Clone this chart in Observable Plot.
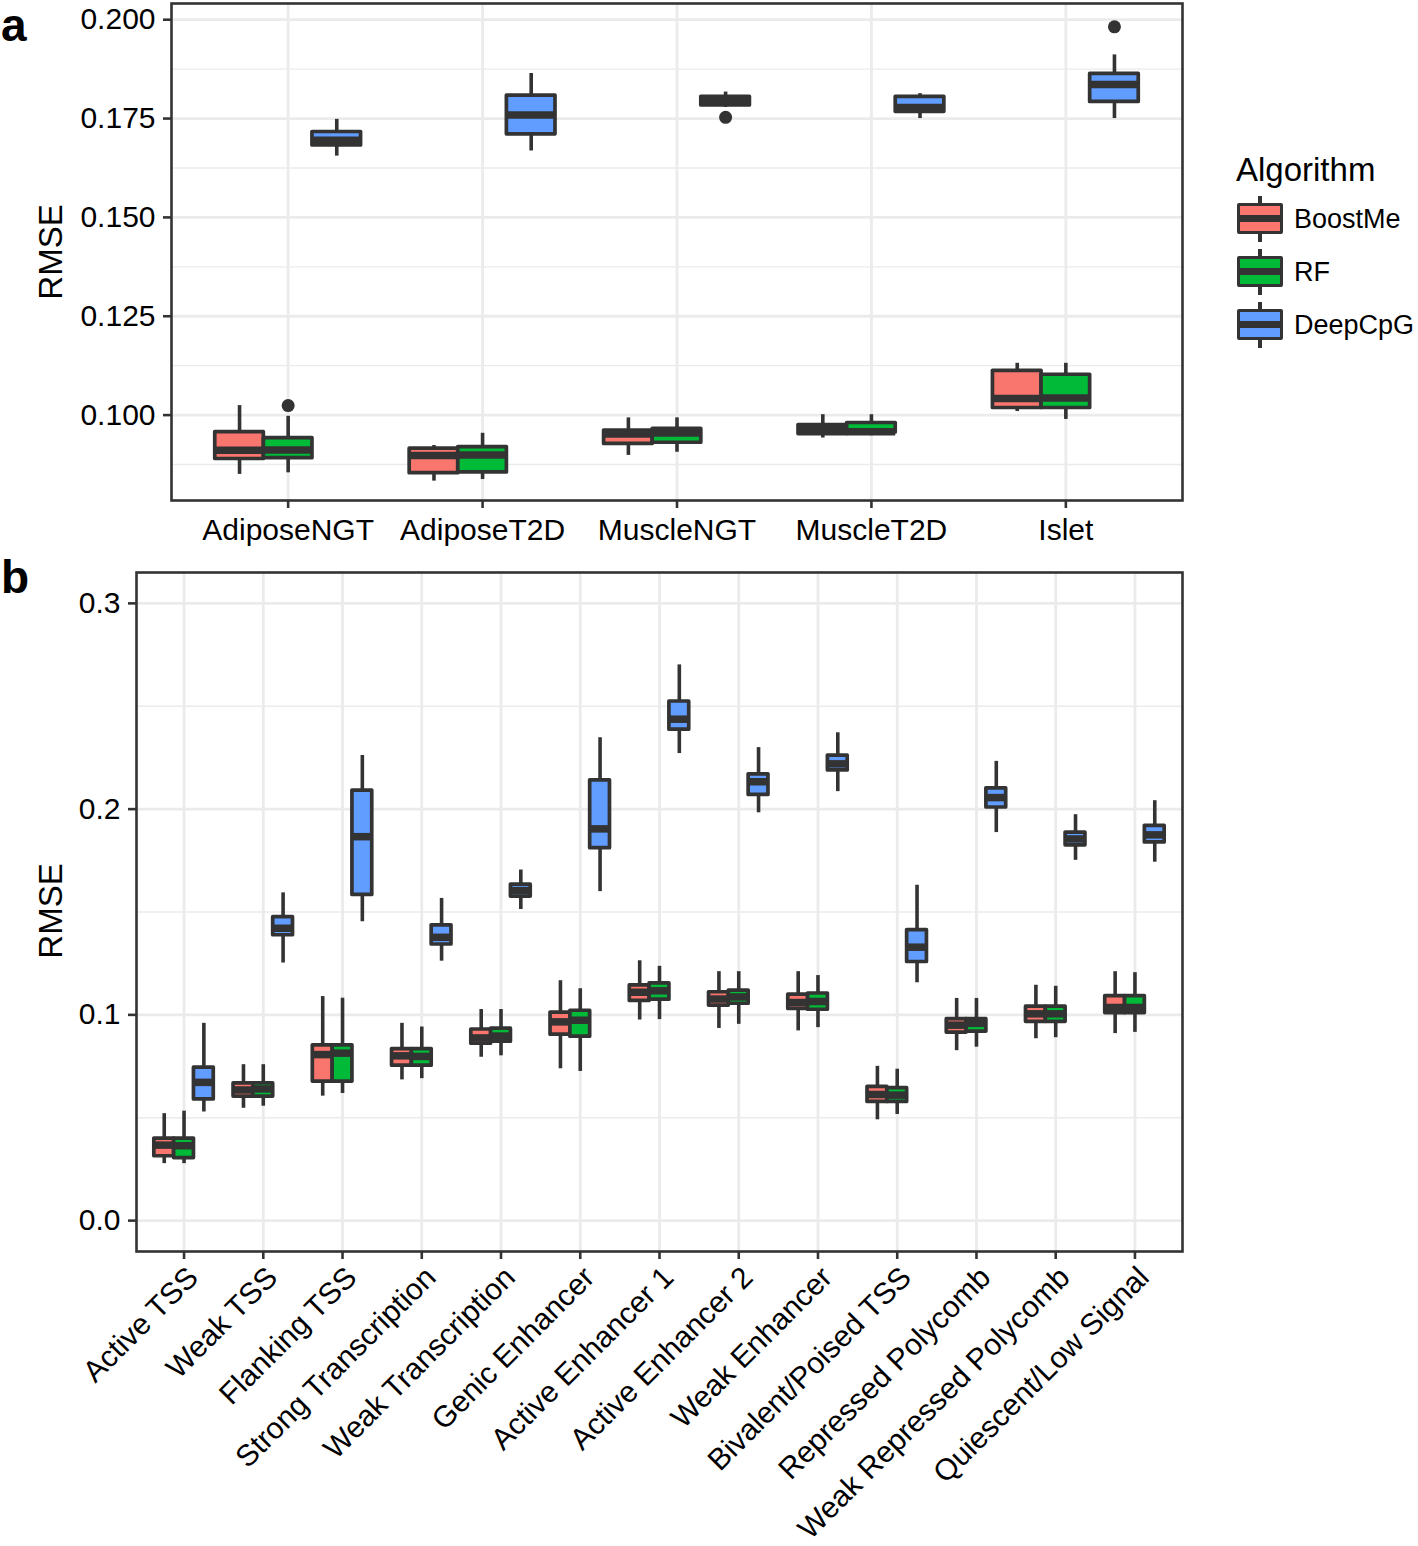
<!DOCTYPE html>
<html><head><meta charset="utf-8">
<script src="https://cdn.jsdelivr.net/npm/d3@7"></script>
<script src="https://cdn.jsdelivr.net/npm/@observablehq/plot@0.6"></script>
<style>
body{margin:0;background:#fff;font-family:"Liberation Sans",Arial,sans-serif;}
#root{position:relative;width:1418px;height:1546px;overflow:hidden;background:#fff;}
.panel{position:absolute;left:0;}
.tag{position:absolute;left:1px;font-weight:bold;font-size:46px;line-height:1.1;color:#000;}
.ylab{position:absolute;font-size:33px;color:#000;transform:translate(-50%,-50%) rotate(-90deg);white-space:nowrap;}
#legend{position:absolute;left:1236px;top:150px;}
#legend .title{font-size:33px;color:#000;line-height:1;}
.key{position:absolute;left:1px;width:46px;height:46px;}
.key .wh{position:absolute;left:21px;top:0;width:3.6px;height:46px;background:#333;}
.key .bx{position:absolute;left:0;top:7px;width:46px;height:31px;box-sizing:border-box;border:3.7px solid #333;border-radius:2px;}
.key .md{position:absolute;left:0;top:19px;width:46px;height:7px;background:#333;}
.klab{position:absolute;left:58px;font-size:27px;color:#000;line-height:1;}
</style></head>
<body><div id="root"></div>
<script>
// ---------- data ----------
const algorithms = ["BoostMe", "RF", "DeepCpG"];
const algorithmColors = ["#F8766D", "#00BA38", "#619CFF"];

// Panel a
const tissues = ["AdiposeNGT", "AdiposeT2D", "MuscleNGT", "MuscleT2D", "Islet"];
// [whisker low, Q1, median, Q3, whisker high]
const tissueBoostMe = [
  [0.0850, 0.0889, 0.0911, 0.0957, 0.1024],
  [0.0833, 0.0853, 0.0898, 0.0915, 0.0923],
  [0.0898, 0.0927, 0.0952, 0.0961, 0.0993],
  [0.0942, 0.0952, 0.0964, 0.0975, 0.1001],
  [0.1009, 0.1018, 0.1042, 0.1112, 0.1131]
];
const tissueRF = [
  [0.0854, 0.0891, 0.0912, 0.0942, 0.0997],
  [0.0837, 0.0855, 0.0899, 0.0919, 0.0954],
  [0.0906, 0.0930, 0.0955, 0.0965, 0.0993],
  [0.0948, 0.0956, 0.0958, 0.0980, 0.1001],
  [0.0989, 0.1018, 0.1043, 0.1102, 0.1131]
];
const tissueDeepCpG = [
  [0.1655, 0.1682, 0.1695, 0.1716, 0.1748],
  [0.1668, 0.1710, 0.1759, 0.1808, 0.1864],
  [0.1778, 0.1783, 0.1795, 0.1805, 0.1817],
  [0.1750, 0.1767, 0.1778, 0.1805, 0.1813],
  [0.1750, 0.1792, 0.1836, 0.1863, 0.1911]
];
const tissueOutlierTissue = ["AdiposeNGT", "MuscleNGT", "Islet"];
const tissueOutlierAlgorithm = ["RF", "DeepCpG", "DeepCpG"];
const tissueOutlierValue = [0.1024, 0.1753, 0.1982];
const tissueTicks = [0.100, 0.125, 0.150, 0.175, 0.200];
const tissueMinorTicks = [0.0875, 0.1125, 0.1375, 0.1625, 0.1875];

// Panel b
const states = ["Active TSS", "Weak TSS", "Flanking TSS", "Strong Transcription", "Weak Transcription",
  "Genic Enhancer", "Active Enhancer 1", "Active Enhancer 2", "Weak Enhancer", "Bivalent/Poised TSS",
  "Repressed Polycomb", "Weak Repressed Polycomb", "Quiescent/Low Signal"];
const stateBoostMe = [
  [0.0277, 0.0313, 0.0367, 0.0399, 0.0520],
  [0.0546, 0.0603, 0.0635, 0.0667, 0.0758],
  [0.0605, 0.0676, 0.0807, 0.0852, 0.1089],
  [0.0684, 0.0753, 0.0801, 0.0834, 0.0959],
  [0.0794, 0.0860, 0.0888, 0.0929, 0.1026],
  [0.0738, 0.0904, 0.0966, 0.1011, 0.1166],
  [0.0975, 0.1068, 0.1110, 0.1143, 0.1263],
  [0.0934, 0.1045, 0.1077, 0.1110, 0.1210],
  [0.0922, 0.1029, 0.1060, 0.1098, 0.1210],
  [0.0490, 0.0577, 0.0613, 0.0650, 0.0750],
  [0.0826, 0.0914, 0.0950, 0.0979, 0.1080],
  [0.0884, 0.0966, 0.1005, 0.1040, 0.1144],
  [0.0909, 0.1009, 0.1036, 0.1091, 0.1210]
];
const stateRF = [
  [0.0277, 0.0304, 0.0364, 0.0399, 0.0532],
  [0.0556, 0.0603, 0.0640, 0.0667, 0.0758],
  [0.0618, 0.0676, 0.0814, 0.0852, 0.1081],
  [0.0690, 0.0753, 0.0798, 0.0834, 0.0941],
  [0.0801, 0.0870, 0.0897, 0.0933, 0.1026],
  [0.0725, 0.0894, 0.0974, 0.1020, 0.1127],
  [0.0977, 0.1074, 0.1117, 0.1153, 0.1236],
  [0.0954, 0.1054, 0.1087, 0.1118, 0.1210],
  [0.0938, 0.1025, 0.1065, 0.1104, 0.1191],
  [0.0516, 0.0577, 0.0610, 0.0644, 0.0736],
  [0.0843, 0.0919, 0.0959, 0.0979, 0.1080],
  [0.0889, 0.0966, 0.1005, 0.1040, 0.1139],
  [0.0915, 0.1009, 0.1036, 0.1091, 0.1205]
];
const stateDeepCpG = [
  [0.0528, 0.0589, 0.0672, 0.0744, 0.0959],
  [0.1252, 0.1387, 0.1421, 0.1475, 0.1593],
  [0.1453, 0.1583, 0.1866, 0.2090, 0.2261],
  [0.1261, 0.1342, 0.1377, 0.1435, 0.1566],
  [0.1512, 0.1575, 0.1604, 0.1633, 0.1704],
  [0.1599, 0.1810, 0.1904, 0.2140, 0.2347],
  [0.2270, 0.2386, 0.2437, 0.2523, 0.2701],
  [0.1982, 0.2069, 0.2133, 0.2169, 0.2299],
  [0.2085, 0.2188, 0.2220, 0.2260, 0.2371],
  [0.1156, 0.1257, 0.1329, 0.1412, 0.1630],
  [0.1886, 0.2008, 0.2056, 0.2101, 0.2232],
  [0.1751, 0.1824, 0.1855, 0.1886, 0.1973],
  [0.1742, 0.1838, 0.1875, 0.1919, 0.2041]
];
const stateTicks = [0.0, 0.1, 0.2, 0.3];
const stateMinorTicks = [0.05, 0.15, 0.25];

// ---------- helpers ----------
const DODGE = 0.25; // ggplot dodge: 0.75 band / 3 groups
function boxRecords(cats, seriesList) {
  const out = [];
  seriesList.forEach((series, j) => {
    series.forEach((s, i) => {
      const x = i + (j - 1) * DODGE;
      out.push({cat: cats[i], alg: algorithms[j], x, x1: x - DODGE / 2, x2: x + DODGE / 2,
        lo: s[0], q1: s[1], med: s[2], q3: s[3], hi: s[4]});
    });
  });
  return out;
}
const dark = "#333333";
const grid = "#EBEBEB";
function boxMarks(recs) {
  return [
    Plot.ruleX(recs, {x: "x", y1: "lo", y2: "hi", stroke: dark, strokeWidth: 3.6}),
    Plot.rect(recs, {x1: "x1", x2: "x2", y1: "q1", y2: "q3", fill: "alg", stroke: dark, strokeWidth: 3.7, strokeLinejoin: "round"}),
    Plot.ruleY(recs, {x1: "x1", x2: "x2", y: "med", stroke: dark, strokeWidth: 7.5})
  ];
}
const style = {fontFamily: "'Liberation Sans', Arial, sans-serif", fontSize: "30px", color: "#000", background: "transparent", overflow: "visible"};

// ---------- panel a ----------
const recA = boxRecords(tissues, [tissueBoostMe, tissueRF, tissueDeepCpG]);
const outA = tissueOutlierValue.map((v, k) => ({
  x: tissues.indexOf(tissueOutlierTissue[k]) + (algorithms.indexOf(tissueOutlierAlgorithm[k]) - 1) * DODGE,
  y: v
}));
const plotA = Plot.plot({
  width: 1418, height: 560,
  marginLeft: 171, marginRight: 236, marginTop: 3, marginBottom: 60,
  x: {domain: [-0.6, tissues.length - 0.4]},
  y: {domain: [0.0784, 0.2041]},
  color: {domain: algorithms, range: algorithmColors},
  style,
  marks: [
    Plot.gridY(tissueMinorTicks, {stroke: grid, strokeOpacity: 1, strokeWidth: 1.4}),
    Plot.gridY(tissueTicks, {stroke: grid, strokeOpacity: 1, strokeWidth: 2.8}),
    Plot.gridX(d3.range(tissues.length), {stroke: grid, strokeOpacity: 1, strokeWidth: 2.8}),
    ...boxMarks(recA),
    Plot.dot(outA, {x: "x", y: "y", r: 6.5, fill: dark, stroke: "none"}),
    Plot.frame({stroke: dark, strokeWidth: 2.6}),
    Plot.axisY(tissueTicks, {tickFormat: d3.format(".3f"), tickSize: 8, tickPadding: 8, stroke: dark, strokeWidth: 2.6, label: null, fontSize: 30}),
    Plot.axisX(d3.range(tissues.length), {tickFormat: i => tissues[i], tickSize: 8, tickPadding: 10, stroke: dark, strokeWidth: 2.6, label: null, fontSize: 30})
  ]
});

// ---------- panel b ----------
const recB = boxRecords(states, [stateBoostMe, stateRF, stateDeepCpG]);
const plotB = Plot.plot({
  width: 1418, height: 986,
  marginLeft: 136, marginRight: 236, marginTop: 12, marginBottom: 295,
  x: {domain: [-0.6, states.length - 0.4]},
  y: {domain: [-0.015, 0.315]},
  color: {domain: algorithms, range: algorithmColors},
  style,
  marks: [
    Plot.gridY(stateMinorTicks, {stroke: grid, strokeOpacity: 1, strokeWidth: 1.4}),
    Plot.gridY(stateTicks, {stroke: grid, strokeOpacity: 1, strokeWidth: 2.8}),
    Plot.gridX(d3.range(states.length), {stroke: grid, strokeOpacity: 1, strokeWidth: 2.8}),
    ...boxMarks(recB),
    Plot.frame({stroke: dark, strokeWidth: 2.6}),
    Plot.axisY(stateTicks, {tickFormat: d3.format(".1f"), tickSize: 8, tickPadding: 8, stroke: dark, strokeWidth: 2.6, label: null, fontSize: 30}),
    // tick marks only
    Plot.axisX(d3.range(states.length), {tickFormat: () => "", tickSize: 8, stroke: dark, strokeWidth: 2.6, label: null}),
    // rotated labels only
    Plot.axisX(d3.range(states.length), {tickFormat: i => states[i], tickRotate: -45, tickSize: 0, tickPadding: 21, dx: 9, label: null, fontSize: 30})
  ]
});

// ---------- assemble ----------
const root = document.getElementById("root");
function place(node, top) {
  const d = document.createElement("div");
  d.className = "panel"; d.style.top = top + "px";
  d.appendChild(node); root.appendChild(d);
}
place(plotA, 0);
place(plotB, 560);

function addText(cls, text, css) {
  const d = document.createElement("div");
  d.className = cls; d.textContent = text;
  Object.assign(d.style, css); root.appendChild(d); return d;
}
addText("tag", "a", {top: "0px"});
addText("tag", "b", {top: "552px"});
addText("ylab", "RMSE", {left: "51px", top: "252px"});
addText("ylab", "RMSE", {left: "51px", top: "911px"});

// legend
const legend = document.createElement("div");
legend.id = "legend";
const title = document.createElement("div");
title.className = "title"; title.textContent = "Algorithm";
title.style.position = "absolute"; title.style.top = "3px"; title.style.left = "0px"; title.style.whiteSpace = "nowrap";
legend.appendChild(title);
algorithms.forEach((a, k) => {
  const top = 46 + k * 53;
  const key = document.createElement("div");
  key.className = "key"; key.style.top = top + "px";
  key.innerHTML = '<div class="wh"></div><div class="bx"></div><div class="md"></div>';
  key.querySelector(".bx").style.background = algorithmColors[k];
  legend.appendChild(key);
  const lab = document.createElement("div");
  lab.className = "klab"; lab.textContent = a; lab.style.top = (top + 10) + "px";
  legend.appendChild(lab);
});
root.appendChild(legend);
</script>
</body></html>
